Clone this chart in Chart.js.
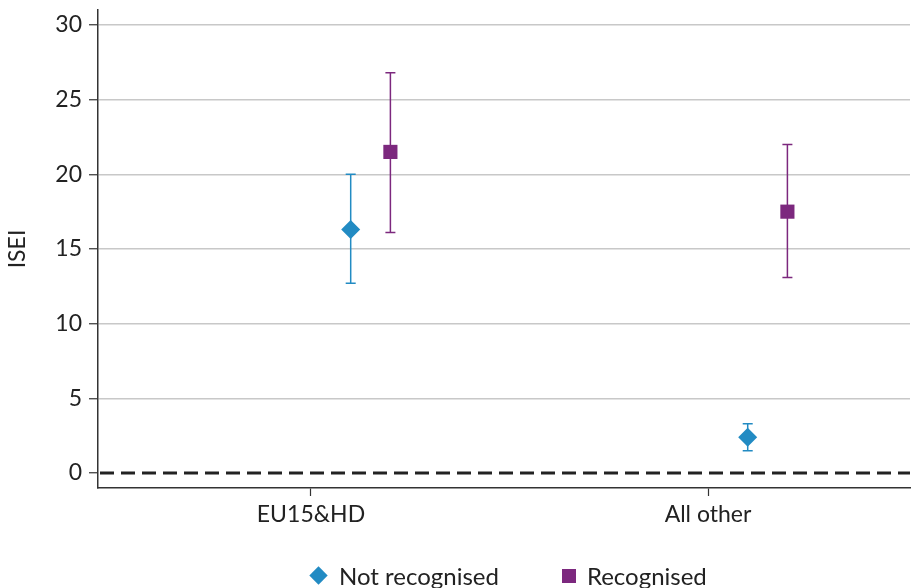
<!DOCTYPE html>
<html>
<head>
<meta charset="utf-8">
<script src="https://cdn.jsdelivr.net/npm/chart.js@4"></script>
<style>
  body { margin: 0; background: #fff; }
  #wrap { position: relative; width: 913px; height: 588px; }
  #legend {
    position: absolute; top: 561px; left: 309px;
    display: flex; align-items: center; white-space: nowrap;
    font-family: Lato, sans-serif; font-size: 24px; color: #222;
  }
  .item { display: flex; align-items: center; }
  .item + .item { margin-left: 63px; }
  .diamond { width: 13px; height: 13px; transform: rotate(45deg); margin: 0 14px 0 3px; }
  .square { width: 14px; height: 14px; margin-right: 11px; }
</style>
</head>
<body>
<div id="wrap">
  <canvas id="myChart" width="913" height="588"></canvas>
  <div id="legend"></div>
</div>
<script>
// categories and values
const categories = ["EU15&HD", "All other"];
const seriesNames = ["Not recognised", "Recognised"];
const notRecognised = [16.3, 2.4];
const notRecognisedLow = [12.7, 1.5];
const notRecognisedHigh = [20.0, 3.3];
const recognised = [21.5, 17.5];
const recognisedLow = [16.1, 13.1];
const recognisedHigh = [26.8, 22.0];
const yTicks = [0, 5, 10, 15, 20, 25, 30];

const BLUE = "rgb(34,139,195)";
const PURPLE = "rgb(124,40,126)";
const FONT = "Lato, sans-serif";

// points sit a bit to the right of each category tick
const points = (vals, lows, highs, shift) =>
  vals.map((v, i) => ({ x: i + shift, y: v, low: lows[i], high: highs[i] }));

// error bars drawn through the chart scales
const errorBars = {
  id: "errorBars",
  beforeDatasetsDraw(chart) {
    const { ctx, scales } = chart;
    chart.data.datasets.forEach((ds) => {
      if (!ds.errorBars) return;
      ctx.save();
      ctx.strokeStyle = ds.borderColor;
      ctx.lineWidth = 1.5;
      ds.data.forEach((p) => {
        const x = scales.x.getPixelForValue(p.x);
        const yl = scales.y.getPixelForValue(p.low);
        const yh = scales.y.getPixelForValue(p.high);
        ctx.beginPath();
        ctx.moveTo(x, yl); ctx.lineTo(x, yh);
        ctx.moveTo(x - 5, yl); ctx.lineTo(x + 5, yl);
        ctx.moveTo(x - 5, yh); ctx.lineTo(x + 5, yh);
        ctx.stroke();
      });
      ctx.restore();
    });
  },
};

const X_MIN = -0.5365, X_MAX = 1.5088;

new Chart(document.getElementById("myChart"), {
  type: "scatter",
  data: {
    datasets: [
      {
        label: seriesNames[0],
        data: points(notRecognised, notRecognisedLow, notRecognisedHigh, 0.1),
        pointStyle: "rectRot",
        pointRadius: 9.5,
        backgroundColor: BLUE,
        borderColor: BLUE,
        borderWidth: 0,
        errorBars: true,
        order: 1,
      },
      {
        label: seriesNames[1],
        data: points(recognised, recognisedLow, recognisedHigh, 0.2),
        pointStyle: "rect",
        pointRadius: 10,
        backgroundColor: PURPLE,
        borderColor: PURPLE,
        borderWidth: 0,
        errorBars: true,
        order: 0,
      },
      {
        type: "line",
        label: "zero",
        data: [{ x: X_MIN, y: 0 }, { x: X_MAX, y: 0 }],
        borderColor: "#222",
        borderWidth: 3,
        borderDash: [14, 7],
        borderDashOffset: -2,
        pointRadius: 0,
        order: 2,
      },
    ],
  },
  options: {
    responsive: false,
    animation: false,
    layout: { autoPadding: false, padding: { top: 10, right: 3, left: 0, bottom: 0 } },
    plugins: { legend: { display: false }, tooltip: { enabled: false } },
    scales: {
      x: {
        type: "linear",
        min: X_MIN,
        max: X_MAX,
        afterBuildTicks: (scale) => {
          scale.ticks = categories.map((c, i) => ({ value: i }));
        },
        afterFit: (scale) => {
          scale.height = 100;
          scale.paddingLeft = 0;
          scale.paddingRight = 0;
        },
        ticks: {
          callback: (value) => categories[value],
          font: { family: FONT, size: 23 },
          color: "#222",
          padding: 5,
          maxRotation: 0,
        },
        grid: { drawOnChartArea: false, drawTicks: true, tickLength: 8, tickColor: "#333", tickWidth: 1.2 },
        border: { color: "#333", width: 1.5 },
      },
      y: {
        min: -1,
        max: 31,
        afterBuildTicks: (scale) => {
          scale.ticks = yTicks.map((v) => ({ value: v }));
        },
        afterFit: (scale) => {
          scale.width = 98;
          scale.paddingTop = 0;
          scale.paddingBottom = 0;
        },
        title: {
          display: true,
          text: "ISEI",
          font: { family: FONT, size: 23 },
          color: "#222",
          padding: { top: 4, bottom: 0 },
        },
        ticks: { font: { family: FONT, size: 23 }, color: "#222", padding: 7 },
        grid: {
          color: (c) => (c.tick && c.tick.value === 0 ? "rgba(0,0,0,0)" : "#c8c8c8"),
          lineWidth: 1.5,
          tickLength: 9,
          tickColor: "#333",
          tickWidth: 1.2,
        },
        border: { color: "#333", width: 1.5 },
      },
    },
  },
  plugins: [errorBars],
});

// legend below the plot
const legend = document.getElementById("legend");
[[seriesNames[0], "diamond", BLUE], [seriesNames[1], "square", PURPLE]].forEach(([name, shape, color]) => {
  const item = document.createElement("div");
  item.className = "item";
  const mark = document.createElement("span");
  mark.className = shape;
  mark.style.background = color;
  const text = document.createElement("span");
  text.textContent = name;
  item.appendChild(mark);
  item.appendChild(text);
  legend.appendChild(item);
});
</script>
</body>
</html>
